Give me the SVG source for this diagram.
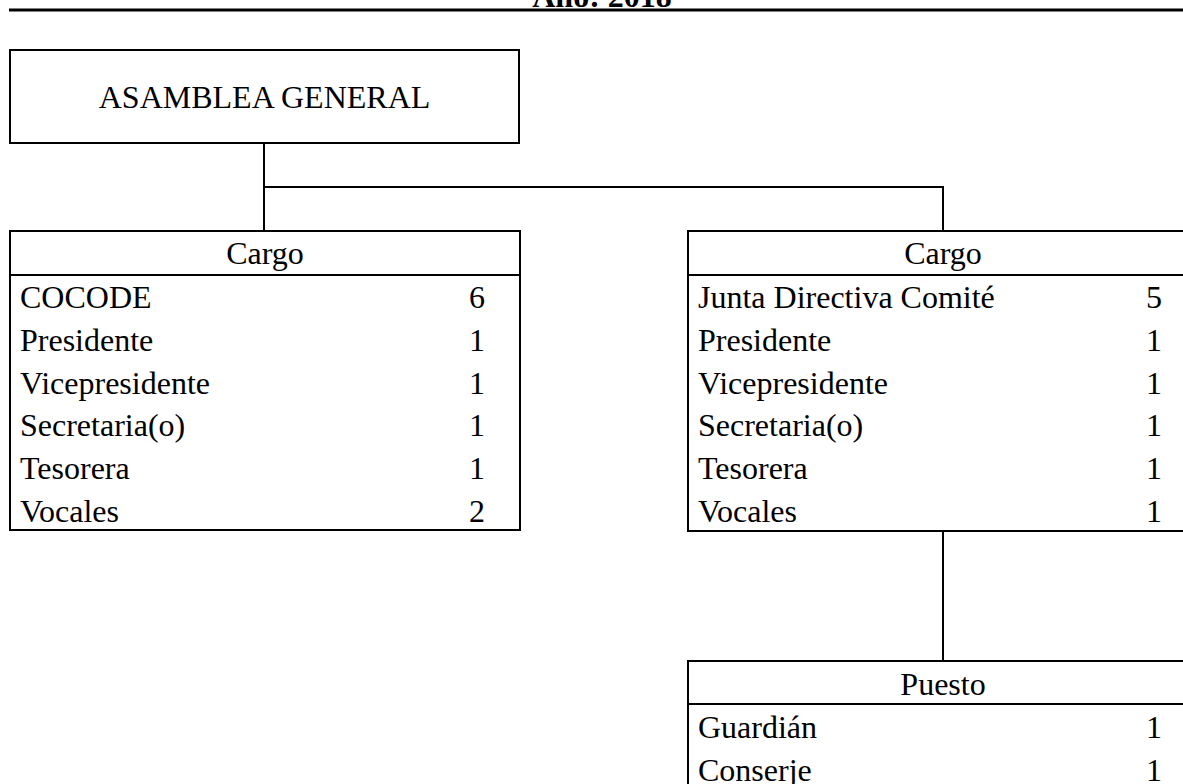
<svg xmlns="http://www.w3.org/2000/svg" width="1183" height="784" viewBox="0 0 1183 784">
<style>
text{font-family:"Liberation Serif","Times New Roman",serif;font-size:32px;fill:#000}
.c{text-anchor:middle}
.n{text-anchor:end}
.box{fill:#fff;stroke:#000;stroke-width:2}
.ln{fill:none;stroke:#000;stroke-width:2}
</style>
<rect width="1183" height="784" fill="#fff"/>
<g id="title">
<text class="c" x="602" y="7" font-weight="bold">Año: 2018</text>
<line x1="9" y1="10" x2="1183" y2="10" stroke="#000" stroke-width="3"/>
</g>
<g id="connectors">
<path class="ln" d="M264 143V231"/>
<path class="ln" d="M264 187H943V231"/>
<path class="ln" d="M943 531V661"/>
</g>
<g id="asamblea">
<rect class="box" x="10" y="50" width="509" height="93"/>
<text class="c" x="264.5" y="108">ASAMBLEA GENERAL</text>
</g>
<g id="cargo-cocode">
<rect class="box" x="10" y="231" width="510" height="299"/>
<line class="ln" x1="10" y1="275" x2="520" y2="275"/>
<text class="c" x="265" y="264">Cargo</text>
<text x="20" y="308.3">COCODE</text><text class="n" x="485" y="308.3">6</text>
<text x="20" y="351">Presidente</text><text class="n" x="485" y="351">1</text>
<text x="20" y="393.7">Vicepresidente</text><text class="n" x="485" y="393.7">1</text>
<text x="20" y="436.3">Secretaria(o)</text><text class="n" x="485" y="436.3">1</text>
<text x="20" y="479">Tesorera</text><text class="n" x="485" y="479">1</text>
<text x="20" y="521.7">Vocales</text><text class="n" x="485" y="521.7">2</text>
</g>
<g id="cargo-junta">
<rect class="box" x="688" y="231" width="510" height="300"/>
<line class="ln" x1="688" y1="275" x2="1198" y2="275"/>
<text class="c" x="943" y="264">Cargo</text>
<text x="698" y="308.3">Junta Directiva Comité</text><text class="n" x="1162" y="308.3">5</text>
<text x="698" y="351">Presidente</text><text class="n" x="1162" y="351">1</text>
<text x="698" y="393.7">Vicepresidente</text><text class="n" x="1162" y="393.7">1</text>
<text x="698" y="436.3">Secretaria(o)</text><text class="n" x="1162" y="436.3">1</text>
<text x="698" y="479">Tesorera</text><text class="n" x="1162" y="479">1</text>
<text x="698" y="521.7">Vocales</text><text class="n" x="1162" y="521.7">1</text>
</g>
<g id="puesto">
<rect class="box" x="688" y="661" width="510" height="200"/>
<line class="ln" x1="688" y1="704" x2="1198" y2="704"/>
<text class="c" x="943" y="695">Puesto</text>
<text x="698" y="738.3">Guardián</text><text class="n" x="1162" y="738.3">1</text>
<text x="698" y="781.3">Conserje</text><text class="n" x="1162" y="781.3">1</text>
</g>
</svg>
